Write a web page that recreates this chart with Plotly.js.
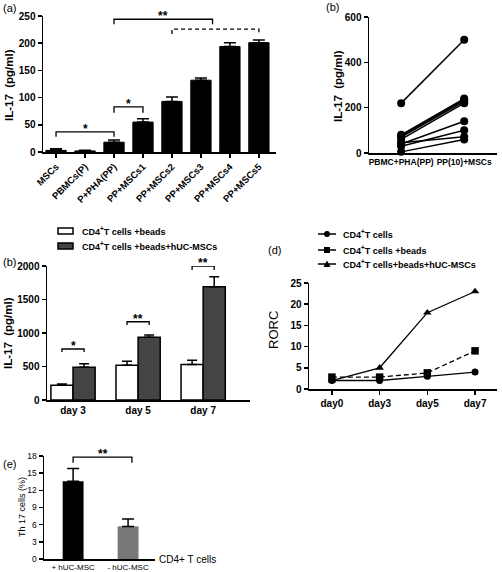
<!DOCTYPE html>
<html><head><meta charset="utf-8">
<script src="https://cdn.plot.ly/plotly-3.0.1.min.js"></script>
<style>body{margin:0;background:#fff}#chart{width:502px;height:572px}</style>
</head><body><div id="chart"></div>
<script>
// ---------- Panel (a) ----------
const aCategories = ['MSCs','PBMCs(P)','P+PHA(PP)','PP+MSCs1','PP+MSCs2','PP+MSCs3','PP+MSCs4','PP+MSCs5'];
const aValues = [3,2,18,55,93,132,194,201];
const aErrors = [3,1,4,6,8,4,7,5];
const aTicks = [0,50,100,150,200,250];
// ---------- Panel (b) top right ----------
const bCategories = ['PBMC+PHA(PP)','PP(10)+MSCs'];
const bBefore = [220,80,75,70,60,45,40,30,5];
const bAfter = [500,240,235,228,220,72,140,100,60];
const bTicks = [0,200,400,600];
// ---------- Panel (b) lower left ----------
const cDays = ['day 3','day 5','day 7'];
const cBeads = [220,520,530];
const cBeadsErr = [20,60,65];
const cMSC = [490,935,1690];
const cMSCErr = [50,35,150];
const cTicks = [0,500,1000,1500,2000];
// ---------- Panel (d) ----------
const dDays = ['day0','day3','day5','day7'];
const dCells = [2,2,3,4];
const dBeads = [2.8,2.8,3.8,9];
const dMSC = [2,5,18,23];
const dTicks = [0,5,10,15,20,25];
// ---------- Panel (e) ----------
const eCategories = ['+ hUC-MSC','- hUC-MSC'];
const eValues = [13.6,5.7];
const eErrors = [2.2,1.3];
const eTicks = [0,3,6,9,12,15,18];
// significance brackets: [from, to, y, yEnd, label, dash]
const aBrackets = [[0,2,37,28,'*','solid'],[2,3,83,72,'*','solid'],[2,5.4,244,235,'**','solid'],[4,7,226,217,'','4px,3px']];
const cBrackets = [[-0.17,0.17,761,716,'*'],[0.83,1.17,1168,1119,'**'],[1.83,2.17,2000,1940,'**']];
const eBrackets = [[0,1.07,17.8,16.8,'**']];

const W=502,H=572;
const FONT='Liberation Sans, Arial, sans-serif';
const px=x=>x/W, py=y=>1-y/H;
const idx=a=>a.map((_,i)=>i);

function axisBase(extra){
  return Object.assign({showline:true,linewidth:1.5,linecolor:'#000',ticks:'outside',ticklen:4,tickwidth:1.5,tickcolor:'#000',
    showgrid:false,zeroline:false,fixedrange:true,
    tickfont:{family:FONT,size:10,color:'#000',weight:'bold'}},extra);
}

const traces=[];
// (a)
traces.push({type:'bar',x:idx(aCategories),y:aValues,width:0.7,xaxis:'x',yaxis:'y',
  marker:{color:'#000',line:{color:'#000',width:1}},
  error_y:{type:'data',symmetric:false,array:aErrors,arrayminus:aValues.map(()=>0),color:'#000',thickness:1.5,width:6}});
// (b) top right
const bx=[],by=[];
bBefore.forEach((v,i)=>{bx.push(0,1,null);by.push(v,bAfter[i],null);});
traces.push({type:'scatter',mode:'lines+markers',x:bx,y:by,xaxis:'x2',yaxis:'y2',
  line:{color:'#000',width:1.5},marker:{color:'#000',size:8},cliponaxis:false});
// (b) lower left
traces.push({type:'bar',x:idx(cDays),y:cBeads,xaxis:'x3',yaxis:'y3',
  marker:{color:'#fff',line:{color:'#000',width:1.5}},
  error_y:{type:'data',symmetric:false,array:cBeadsErr,arrayminus:cBeads.map(()=>0),color:'#000',thickness:1.5,width:5}});
traces.push({type:'bar',x:idx(cDays),y:cMSC,xaxis:'x3',yaxis:'y3',
  marker:{color:'#444',line:{color:'#000',width:1.5}},
  error_y:{type:'data',symmetric:false,array:cMSCErr,arrayminus:cMSC.map(()=>0),color:'#000',thickness:1.5,width:5}});
// (d)
traces.push({type:'scatter',mode:'lines+markers',x:idx(dDays),y:dCells,xaxis:'x4',yaxis:'y4',cliponaxis:false,
  line:{color:'#000',width:1.3},marker:{symbol:'circle',size:7,color:'#000'}});
traces.push({type:'scatter',mode:'lines+markers',x:idx(dDays),y:dBeads,xaxis:'x4',yaxis:'y4',cliponaxis:false,
  line:{color:'#000',width:1.3,dash:'5px,3px'},marker:{symbol:'square',size:7.5,color:'#000'}});
traces.push({type:'scatter',mode:'lines+markers',x:idx(dDays),y:dMSC,xaxis:'x4',yaxis:'y4',cliponaxis:false,
  line:{color:'#000',width:1.3},marker:{symbol:'triangle-up',size:7.5,color:'#000'}});
// (e)
traces.push({type:'bar',x:idx(eCategories),y:eValues,width:0.38,xaxis:'x5',yaxis:'y5',
  marker:{color:['#000','#777'],line:{color:'#000',width:0}},
  error_y:{type:'data',symmetric:false,array:eErrors,arrayminus:eValues.map(()=>0),color:'#000',thickness:1.5,width:6}});

const layout={width:W,height:H,margin:{l:0,r:0,t:0,b:0},showlegend:false,paper_bgcolor:'#fff',plot_bgcolor:'rgba(0,0,0,0)',
  barmode:'group',bargap:0.32,bargroupgap:0,
  font:{family:FONT,color:'#000'},
  xaxis:axisBase({domain:[px(43),px(276)],anchor:'y',range:[-0.45,7.59],tickvals:idx(aCategories),ticktext:aCategories,tickangle:-45,tickfont:{family:FONT,size:9.5,color:'#000',weight:'bold'}}),
  yaxis:axisBase({domain:[py(152),py(16)],anchor:'x',range:[0,250],tickvals:aTicks}),
  xaxis2:axisBase({domain:[px(369),px(497)],anchor:'y2',range:[-0.51,1.52],tickvals:idx(bCategories),ticktext:bCategories,ticks:'',tickfont:{family:FONT,size:8.5,color:'#000',weight:'bold'}}),
  yaxis2:axisBase({domain:[py(153),py(17)],anchor:'x2',range:[0,600],tickvals:bTicks}),
  xaxis3:axisBase({domain:[px(47),px(250)],anchor:'y3',range:[-0.4,2.72],tickvals:idx(cDays),ticktext:cDays,ticks:''}),
  yaxis3:axisBase({domain:[py(400),py(266)],anchor:'x3',range:[0,2000],tickvals:cTicks}),
  xaxis4:axisBase({domain:[px(309),px(497)],anchor:'y4',range:[-0.48,3.46],tickvals:idx(dDays),ticktext:dDays}),
  yaxis4:axisBase({domain:[py(389),py(283)],anchor:'x4',range:[0,25],tickvals:dTicks}),
  xaxis5:axisBase({domain:[px(44),px(155)],anchor:'y5',range:[-0.53,1.49],tickvals:idx(eCategories),ticktext:eCategories,ticks:'',tickfont:{family:FONT,size:8,color:'#000'}}),
  yaxis5:axisBase({domain:[py(559),py(456)],anchor:'x5',range:[0,18],tickvals:eTicks,tickfont:{family:FONT,size:8.5,color:'#000'}}),
  shapes:[],annotations:[]};

function bracket(xr,yr,x0,x1,y,ye,dash){
  layout.shapes.push({type:'path',xref:xr,yref:yr,path:`M${x0},${ye} L${x0},${y} L${x1},${y} L${x1},${ye}`,
    line:{color:'#000',width:1.3,dash:dash||'solid'}});
}
function star(xr,yr,x,y,t,sh){
  if(!t)return;
  layout.annotations.push({xref:xr,yref:yr,x:x,y:y,text:t,showarrow:false,yanchor:'middle',yshift:sh,
    font:{family:FONT,size:12,weight:'bold',color:'#000'}});
}
aBrackets.forEach(b=>{bracket('x','y',b[0],b[1],b[2],b[3],b[5]);star('x','y',(b[0]+b[1])/2,b[2],b[4],3);});
cBrackets.forEach(b=>{bracket('x3','y3',b[0],b[1],b[2],b[3]);star('x3','y3',(b[0]+b[1])/2,b[2],b[4],3);});
eBrackets.forEach(b=>{bracket('x5','y5',b[0],b[1],b[2],b[3]);star('x5','y5',(b[0]+b[1])/2,b[2],b[4],3);});

function txt(x,y,t,opt){
  layout.annotations.push(Object.assign({xref:'paper',yref:'paper',x:px(x),y:py(y),text:t,showarrow:false,
    xanchor:'left',yanchor:'middle',font:{family:FONT,size:11,color:'#000'}},opt||{}));
}
// panel labels
txt(1,8,'(a)');txt(324,7,'(b)');txt(1,262,'(b)');txt(266,250,'(d)');txt(1,464,'(e)');
// y titles
const ytf={family:FONT,size:11.5,color:'#000',weight:'bold'};
txt(9,85,'IL-17  (pg/ml)',{textangle:-90,xanchor:'center',font:ytf});
txt(338,86,'IL-17  (pg/ml)',{textangle:-90,xanchor:'center',font:ytf});
txt(8,333,'IL-17  (pg/ml)',{textangle:-90,xanchor:'center',font:ytf});
txt(274,330,'RORC',{textangle:-90,xanchor:'center',font:{family:FONT,size:13,color:'#000'}});
txt(22,507,'Th 17 cells (%)',{textangle:-90,xanchor:'center',font:{family:FONT,size:9,color:'#000'}});
txt(157,559,'CD4+ T cells',{font:{family:FONT,size:10,color:'#000'}});
// legend (lower-left panel)
const lf={family:FONT,size:9,color:'#000',weight:'bold'};
layout.shapes.push({type:'rect',xref:'paper',yref:'paper',x0:px(58),x1:px(73),y0:py(234),y1:py(228),fillcolor:'#fff',line:{color:'#000',width:1.5}});
layout.shapes.push({type:'rect',xref:'paper',yref:'paper',x0:px(58),x1:px(73),y0:py(249),y1:py(243),fillcolor:'#444',line:{color:'#000',width:1.5}});
txt(80,231,'CD4<sup>+</sup>T cells +beads',{font:lf});
txt(80,246,'CD4<sup>+</sup>T cells +beads+hUC-MSCs',{font:lf});
// legend (d)
[234,250,264].forEach((y,i)=>{
  layout.shapes.push({type:'line',xref:'paper',yref:'paper',x0:px(318),x1:px(336),y0:py(y),y1:py(y),line:{color:'#000',width:1.5}});
  if(i===0) layout.shapes.push({type:'circle',xref:'paper',yref:'paper',x0:px(324),x1:px(330),y0:py(y+3),y1:py(y-3),fillcolor:'#000',line:{width:0}});
  if(i===1) layout.shapes.push({type:'rect',xref:'paper',yref:'paper',x0:px(324),x1:px(330),y0:py(y+3),y1:py(y-3),fillcolor:'#000',line:{width:0}});
  if(i===2) layout.shapes.push({type:'path',xref:'paper',yref:'paper',path:`M${px(323.5)},${py(y+3)} L${px(330.5)},${py(y+3)} L${px(327)},${py(y-3.5)} Z`,fillcolor:'#000',line:{width:0}});
});
txt(341,234,'CD4<sup>+</sup>T cells',{font:lf});
txt(341,250,'CD4<sup>+</sup>T cells +beads',{font:lf});
txt(341,264,'CD4<sup>+</sup>T cells+beads+hUC-MSCs',{font:lf});

Plotly.newPlot('chart',traces,layout,{staticPlot:true,displayModeBar:false});
</script></body></html>
